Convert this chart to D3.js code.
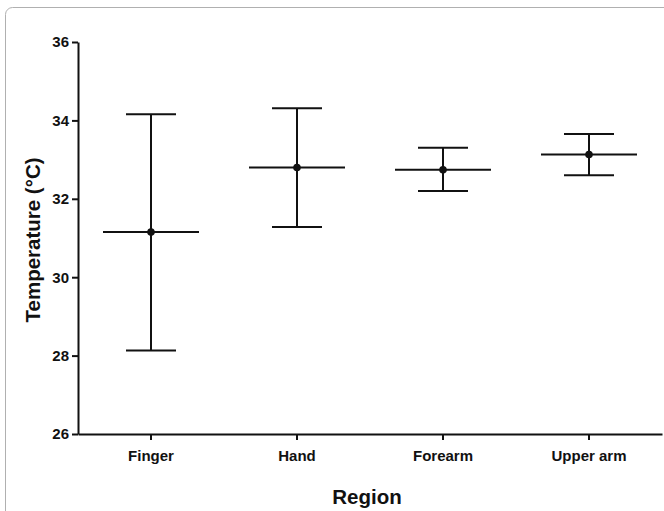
<!DOCTYPE html>
<html><head><meta charset="utf-8">
<script src="https://cdn.jsdelivr.net/npm/d3@7"></script>
<style>
html,body{margin:0;padding:0;background:#fff;}
svg{display:block;font-family:"Liberation Sans",Arial,sans-serif;}
</style></head>
<body>
<script>
const categories = ["Finger", "Hand", "Forearm", "Upper arm"];
const means = [31.15, 32.8, 32.74, 33.13];
const upper = [34.16, 34.31, 33.3, 33.65];
const lower = [28.13, 31.28, 32.2, 32.6];
const yTicks = [26, 28, 30, 32, 34, 36];

(function () {
const W = 664, H = 511;
const svg = d3.select("body").append("svg").attr("width", W).attr("height", H);

// frame
svg.append("rect").attr("x", 5.5).attr("y", 7.5).attr("width", 700).attr("height", 600)
  .attr("rx", 7).attr("fill", "none").attr("stroke", "#b0b0b0").attr("stroke-width", 1);

const mLeft = 78, mRight = 662, mTop = 42, mBottom = 434;
const x = d3.scaleBand().domain(categories).range([mLeft, mRight]).padding(0);
const y = d3.scaleLinear().domain([26, 36]).range([mBottom, mTop]);

const yAxis = svg.append("g").attr("transform", `translate(${mLeft},0)`)
  .call(d3.axisLeft(y).tickValues(yTicks).tickFormat(d3.format("d")).tickSize(6).tickPadding(3).tickSizeOuter(0));
const xAxis = svg.append("g").attr("transform", `translate(0,${mBottom})`)
  .call(d3.axisBottom(x).tickSize(6).tickPadding(10).tickSizeOuter(0));

[yAxis, xAxis].forEach(g => {
  g.select(".domain").attr("stroke", "#111").attr("stroke-width", 2);
  g.selectAll(".tick line").attr("stroke", "#111").attr("stroke-width", 2);
  g.selectAll(".tick text").attr("fill", "#111").attr("font-weight", "bold")
    .attr("font-family", "'Liberation Sans', Arial, sans-serif");
});
yAxis.selectAll(".tick text").attr("font-size", 15);
xAxis.selectAll(".tick text").attr("font-size", 15);

// error bars
const cap = 25, meanHalf = 48;
const g = svg.append("g").attr("stroke", "#111").attr("stroke-width", 2).attr("fill", "none");
categories.forEach((c, i) => {
  const cx = x(c) + x.bandwidth() / 2;
  g.append("line").attr("x1", cx).attr("x2", cx).attr("y1", y(upper[i])).attr("y2", y(lower[i]));
  g.append("line").attr("x1", cx - cap).attr("x2", cx + cap).attr("y1", y(upper[i])).attr("y2", y(upper[i]));
  g.append("line").attr("x1", cx - cap).attr("x2", cx + cap).attr("y1", y(lower[i])).attr("y2", y(lower[i]));
  g.append("line").attr("x1", cx - meanHalf).attr("x2", cx + meanHalf).attr("y1", y(means[i])).attr("y2", y(means[i]));
  svg.append("circle").attr("cx", cx).attr("cy", y(means[i])).attr("r", 3.8).attr("fill", "#111");
});

// titles
svg.append("text").attr("transform", `translate(40,240) rotate(-90)`)
  .attr("text-anchor", "middle").attr("font-size", 20.5).attr("font-weight", "bold").attr("fill", "#111")
  .text("Temperature (°C)");
svg.append("text").attr("x", 367).attr("y", 504)
  .attr("text-anchor", "middle").attr("font-size", 20.5).attr("font-weight", "bold").attr("fill", "#111")
  .text("Region");
})();
</script>
</body></html>
